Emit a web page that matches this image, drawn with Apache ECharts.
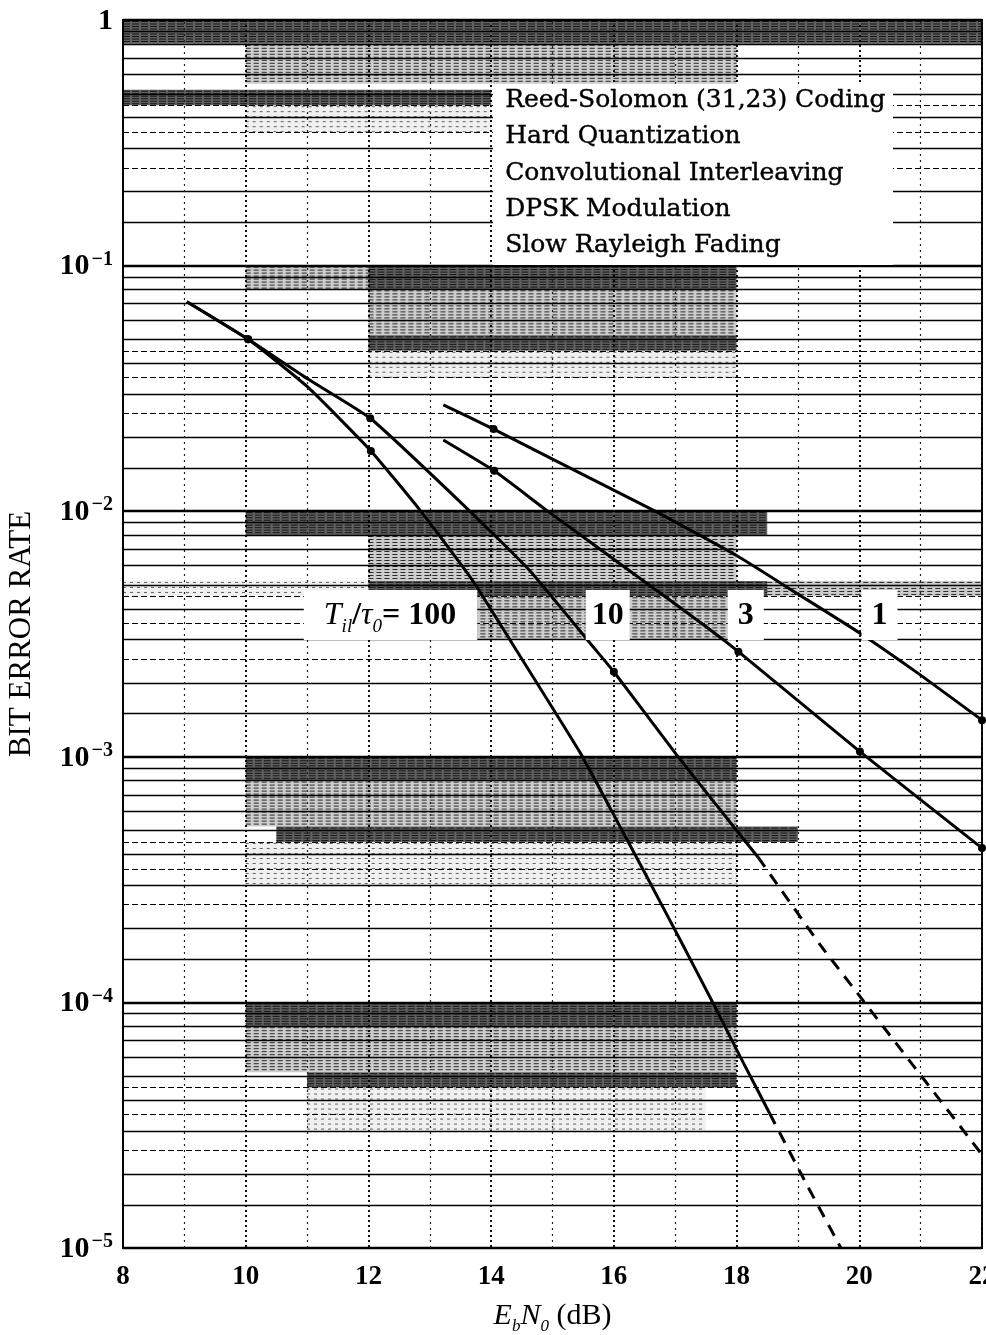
<!DOCTYPE html>
<html>
<head>
<meta charset="utf-8">
<script src="https://cdn.jsdelivr.net/npm/echarts@6/dist/echarts.min.js"></script>
<style>
  html, body { margin: 0; padding: 0; background: #fff; }
  #chart { width: 986px; height: 1335px; }
</style>
</head>
<body>
<div id="chart"></div>
<script>
// ---- data: Eb/N0 (dB) and bit error rate for each interleaving depth ----
const ebn0_100 = [9.04, 10.04, 11.0, 12.04, 12.84, 13.68, 14.34, 15.45, 16.10, 16.54, 17.08, 17.62, 18.06, 18.54];
const ber_100  = [0.0713, 0.0501, 0.0322, 0.0176, 0.0101, 0.0053, 0.0029, 0.00104, 0.00052, 0.000324, 0.00018, 0.000099, 0.00006, 0.0000353];
const ebn0_100_ext = [18.54, 19.1, 19.7];
const ber_100_ext  = [0.0000353, 0.000019, 0.00001];
const marks_100 = [10.04, 12.04];

const ebn0_10 = [9.04, 10.04, 11.0, 12.03, 13.6, 14.62, 15.69, 16.0, 17.02, 17.95, 18.35];
const ber_10  = [0.0713, 0.0501, 0.0347, 0.0239, 0.0103, 0.00576, 0.00275, 0.00222, 0.00102, 0.00052, 0.00039];
const ebn0_10_ext = [18.35, 19.36, 19.97, 22.0];
const ber_10_ext  = [0.00039, 0.000172, 0.000109, 0.000024];
const marks_10 = [10.04, 12.03, 16.0];

const ebn0_3 = [13.22, 14.05, 14.9, 16.44, 17.46, 18.03, 20.01, 22.0];
const ber_3  = [0.0195, 0.0146, 0.0101, 0.0053, 0.00345, 0.00268, 0.00105, 0.000425];
const marks_3 = [14.05, 18.03, 20.01, 22.0];

const ebn0_1 = [13.22, 14.04, 15.0, 16.64, 18.0, 19.0, 20.0, 21.0, 22.0];
const ber_1  = [0.0271, 0.0216, 0.0163, 0.0101, 0.0066, 0.0046, 0.0032, 0.00215, 0.00141];
const marks_1 = [14.04, 22.0];

// curve labels: text and where each sits (Eb/N0, BER)
const curveLabelText = ['{it|T}{sub|il}{n|/}{it|τ}{sub|0}{n|= 100}', '{n|10}', '{n|3}', '{n|1}'];
const curveLabelX = [12.36, 15.90, 18.15, 20.33];
const curveLabelY = [0.00378, 0.00378, 0.00378, 0.00378];

const conditionLines = [
  'Reed-Solomon (31,23) Coding',
  'Hard Quantization',
  'Convolutional Interleaving',
  'DPSK Modulation',
  'Slow Rayleigh Fading'
];

const xTicks = [8, 10, 12, 14, 16, 18, 20, 22];

// ---- chart-paper ruling ----
const FONT = "'Liberation Serif','DejaVu Serif',serif";
const solidMantissas = [1.5, 2, 3, 4, 5, 6, 7, 8, 9];
const dashedMantissas = [2.5, 3.5, 4.5];
const gridLines = [];
for (let e = -5; e < 0; e++) {
  solidMantissas.forEach(m => gridLines.push({ yAxis: m * Math.pow(10, e), lineStyle: { type: 'solid', width: 1.4 } }));
  dashedMantissas.forEach(m => gridLines.push({ yAxis: m * Math.pow(10, e), lineStyle: { type: [6, 3], width: 1.1 } }));
}
for (let x = 9; x < 22; x += 2) {
  gridLines.push({ xAxis: x, lineStyle: { type: [2, 4], width: 1.2, color: '#222' } });
}

// hatched bands of the printed paper: [x0, x1, yTop, yBottom, shade]
const shadeBands = [
  [8, 22, 1, 0.8, 3],
  [10, 18, 0.8, 0.55, 2],
  [8, 14, 0.52, 0.45, 3],
  [10, 14, 0.45, 0.35, 1],
  [10, 12, 0.1, 0.08, 2],
  [12, 18, 0.1, 0.08, 3],
  [12, 18, 0.08, 0.052, 2],
  [12, 18, 0.052, 0.045, 3],
  [12, 18, 0.045, 0.035, 1],
  [10, 18.5, 0.01, 0.008, 3],
  [12, 18, 0.008, 0.0052, 2],
  [12, 18.5, 0.0052, 0.0045, 3],
  [8, 12, 0.0052, 0.0045, 1],
  [18.5, 22, 0.0052, 0.0045, 2],
  [12, 18, 0.0045, 0.003, 2],
  [10, 18, 0.001, 0.0008, 3],
  [10, 18, 0.0008, 0.00052, 2],
  [10.5, 19, 0.00052, 0.00045, 3],
  [10, 18, 0.00045, 0.0003, 1],
  [10, 18, 1e-4, 8e-5, 3],
  [10, 18, 8e-5, 5.2e-5, 2],
  [11, 18, 5.2e-5, 4.5e-5, 3],
  [11, 17.5, 4.5e-5, 3e-5, 1]
];
const shadeFill = { 1: 0.06, 2: 0.2, 3: 0.62 };

function pairs(xs, ys, marks) {
  return xs.map((x, i) => {
    const item = { value: [x, ys[i]] };
    if (marks && marks.indexOf(x) >= 0) {
      item.symbol = 'circle';
      item.symbolSize = 8;
    }
    return item;
  });
}

function curve(xs, ys, marks, dashed) {
  return {
    type: 'line',
    data: pairs(xs, ys, marks),
    symbol: 'none',
    smooth: 0.15,
    z: 5,
    silent: true,
    itemStyle: { color: '#000' },
    lineStyle: { color: '#000', width: 3, type: dashed ? [12, 9] : 'solid' }
  };
}

const chart = echarts.init(document.getElementById('chart'), null, { renderer: 'canvas' });

const option = {
  backgroundColor: '#fff',
  animation: false,
  grid: {
    left: 123, right: 4, top: 20, bottom: 87,
    containLabel: false, outerBoundsMode: 'none',
    show: true, borderColor: '#000', borderWidth: 2, backgroundColor: 'transparent'
  },
  xAxis: {
    type: 'value', min: 8, max: 22, interval: 2,
    name: '{i|E}{sb|b}{i|N}{sb|0}{r| (dB)}',
    nameLocation: 'middle', nameGap: 53,
    nameTextStyle: {
      rich: {
        i: { fontFamily: FONT, fontStyle: 'italic', fontSize: 30, color: '#000', verticalAlign: 'top', lineHeight: 30 },
        sb: { fontFamily: FONT, fontStyle: 'italic', fontSize: 17, color: '#000', verticalAlign: 'bottom', lineHeight: 34 },
        r: { fontFamily: FONT, fontSize: 30, color: '#000', verticalAlign: 'top', lineHeight: 30 }
      }
    },
    axisLine: { show: true, lineStyle: { color: '#000', width: 2 } },
    axisTick: { show: false },
    axisLabel: { margin: 16, fontSize: 27, fontWeight: 'bold', fontFamily: FONT, color: '#000',
      hideOverlap: false,
      formatter: v => xTicks.indexOf(v) >= 0 ? String(v) : '' },
    splitLine: { show: true, lineStyle: { color: '#111', type: [2, 3], width: 2 } }
  },
  yAxis: {
    type: 'log', logBase: 10, min: 1e-5, max: 1, splitNumber: 5,
    name: 'BIT ERROR RATE', nameLocation: 'middle', nameGap: 86, nameRotate: 90,
    nameTextStyle: { fontFamily: FONT, fontSize: 31, color: '#000' },
    axisLine: { show: true, lineStyle: { color: '#000', width: 2 } },
    axisTick: { show: false },
    axisLabel: {
      margin: 10,
      formatter: v => {
        const e = Math.round(Math.log10(v));
        return e === 0 ? '{b|1}' : '{b|10}{s|−' + (-e) + '}';
      },
      rich: {
        b: { fontFamily: FONT, fontWeight: 'bold', fontSize: 30, color: '#000', lineHeight: 32, verticalAlign: 'bottom' },
        s: { fontFamily: FONT, fontWeight: 'bold', fontSize: 20, color: '#000', lineHeight: 20, verticalAlign: 'top', padding: [0, 0, 0, 2] }
      }
    },
    splitLine: { show: true, lineStyle: { color: '#000', width: 2.4 } },
    minorTick: { show: false }, minorSplitLine: { show: false }
  },
  graphic: [
    { type: 'rect', z: 50, shape: { x: 493, y: 84, width: 400, height: 181 }, style: { fill: '#fff' } },
    ...conditionLines.map((t, i) => ({
      type: 'text', z: 51, left: 505, top: 88 + i * 36.2,
      style: { text: t, font: "25px 'DejaVu Serif', serif", fill: '#000', stroke: '#000', lineWidth: 0.4 }
    }))
  ],
  series: [
    {
      type: 'custom', z: 1, silent: true, clip: true,
      data: shadeBands,
      encode: { x: [0, 1], y: [2, 3] },
      renderItem: (params, api) => {
        const p0 = api.coord([api.value(0), api.value(2)]);
        const p1 = api.coord([api.value(1), api.value(3)]);
        const lvl = api.value(4);
        const children = [{
          type: 'rect',
          shape: { x: p0[0], y: p0[1], width: p1[0] - p0[0], height: p1[1] - p0[1] },
          style: { fill: 'rgba(0,0,0,' + shadeFill[lvl] + ')' }
        }];
        const step = lvl === 3 ? 2.5 : (lvl === 2 ? 3 : 5);
        const dash = lvl === 3 ? [7, 2] : (lvl === 2 ? [5, 3] : [3, 4]);
        const alpha = lvl === 3 ? 0.8 : (lvl === 2 ? 0.8 : 0.6);
        for (let y = p0[1] + 1.5; y < p1[1]; y += step) {
          children.push({
            type: 'line',
            shape: { x1: p0[0], y1: y, x2: p1[0], y2: y },
            style: { stroke: 'rgba(0,0,0,' + alpha + ')', lineWidth: 1, lineDash: dash }
          });
        }
        return { type: 'group', children };
      }
    },
    {
      type: 'line', data: [], z: 2, silent: true,
      markLine: {
        silent: true, symbol: 'none', animation: false, precision: 12,
        label: { show: false },
        lineStyle: { color: '#000' },
        data: gridLines
      }
    },
    curve(ebn0_100, ber_100, marks_100, false),
    curve(ebn0_100_ext, ber_100_ext, null, true),
    curve(ebn0_10, ber_10, marks_10, false),
    curve(ebn0_10_ext, ber_10_ext, null, true),
    curve(ebn0_3, ber_3, marks_3, false),
    curve(ebn0_1, ber_1, marks_1, false),
    {
      type: 'scatter', z: 20, silent: true, symbolSize: 0,
      itemStyle: { opacity: 1 },
      data: curveLabelX.map((x, i) => ({
        value: [x, curveLabelY[i]],
        label: { formatter: curveLabelText[i], padding: i === 0 ? [8, 21, 8, 20] : (i === 1 ? [8, 6, 8, 6] : [8, 10, 8, 10]) }
      })),
      label: {
        show: true, position: 'inside', backgroundColor: '#fff', opacity: 1,
        rich: {
          n: { fontFamily: FONT, fontWeight: 'bold', fontSize: 32, color: '#000', lineHeight: 34, verticalAlign: 'bottom' },
          it: { fontFamily: FONT, fontStyle: 'italic', fontSize: 32, color: '#000', lineHeight: 34, verticalAlign: 'bottom' },
          sub: { fontFamily: FONT, fontStyle: 'italic', fontSize: 19, color: '#000', lineHeight: 34, verticalAlign: 'bottom', padding: [0, 0, -5, 0] }
        }
      }
    }
  ]
};

chart.setOption(option);
</script>
</body>
</html>
